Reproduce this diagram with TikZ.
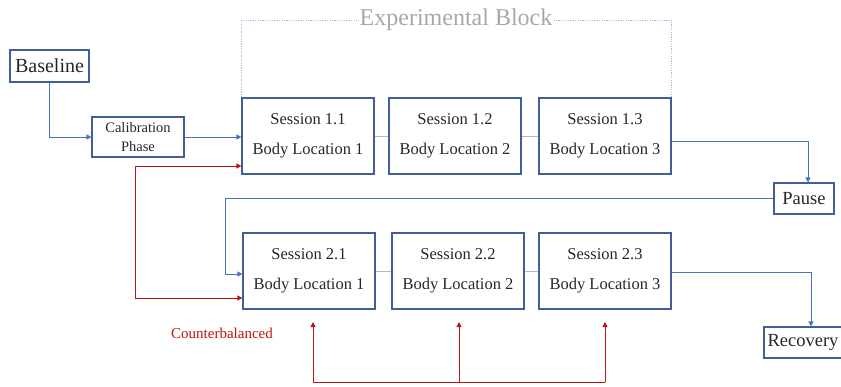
\documentclass[tikz,border=0pt]{standalone}
\usepackage{fontspec}
\setmainfont{Liberation Serif}
\usepackage{tikz}
\usetikzlibrary{arrows.meta}
\usetikzlibrary{calc}
\definecolor{boxline}{RGB}{65,95,150}
\definecolor{flowblue}{RGB}{75,115,195}
\definecolor{linkblue}{RGB}{165,185,225}
\definecolor{cbred}{RGB}{192,20,20}
\definecolor{titlegray}{RGB}{168,168,168}
\tikzset{
	sessnode/.style={rectangle, draw=boxline, line width=1.1pt, minimum width=132pt, minimum height=76pt, align=center, inner sep=0pt, font=\fontsize{16.5}{30}\selectfont, text=black!85},
	smallnode/.style={rectangle, draw=boxline, line width=1.1pt, inner sep=0pt, align=center, text=black!85},
	flow/.style={draw=flowblue, line width=0.9pt, -{Triangle[length=5pt,width=5pt]}},
	cbflow/.style={draw=cbred, line width=0.9pt, -{Triangle[length=5pt,width=5pt]}},
	link/.style={draw=linkblue, line width=0.9pt},
	frame/.style={draw=linkblue, line width=0.8pt, dash pattern=on 1.2pt off 1.2pt}
}

\begin{document}
\begin{tikzpicture}[x=1pt,y=-1pt]
		\useasboundingbox (0,0) rectangle (841,386);
		% left column
		\node[smallnode, minimum width=79pt, minimum height=32pt, font=\fontsize{20}{22}\selectfont] at (49.5,66) (BL) {Baseline};
		\node[smallnode, minimum width=92pt, minimum height=40pt, font=\fontsize{14.5}{19}\selectfont] at (138,137) (CP) {Calibration\\Phase};
		% sessions
		\node[sessnode] at (308,136) (S11) {Session 1.1\\Body Location 1};
		\node[sessnode] at (455,136) (S12) {Session 1.2\\Body Location 2};
		\node[sessnode] at (605,136) (S13) {Session 1.3\\Body Location 3};
		\node[sessnode] at (309,271) (S21) {Session 2.1\\Body Location 1};
		\node[sessnode] at (458,271) (S22) {Session 2.2\\Body Location 2};
		\node[sessnode] at (605,271) (S23) {Session 2.3\\Body Location 3};
		% right column
		\node[smallnode, minimum width=60pt, minimum height=31pt, font=\fontsize{18.5}{20}\selectfont] at (804,198.5) (PS) {Pause};
		\node[smallnode, minimum width=78pt, minimum height=31pt, font=\fontsize{18.5}{20}\selectfont] at (803,342.5) (RC) {Recovery};
		% block title
		\node[text=titlegray, font=\fontsize{24}{26}\selectfont, inner sep=1pt] at (456,20) (EB) {Experimental Block};
		\draw[frame] (S11.north west) |- (EB.west);
		\draw[frame] (EB.east) -| (S13.north east);
		% blue flow
		\draw[flow] (BL.south) |- (CP.west);
		\draw[flow] (CP.east) -- (S11.west |- CP.east);
		\draw[link] (S11.east) -- (S12.west);
		\draw[link] (S12.east) -- (S13.west);
		\draw[link] (S21.east) -- (S22.west);
		\draw[link] (S22.east) -- (S23.west);
		\draw[flow] ([yshift=-5pt]S13.east) -| ([xshift=4pt]PS.north);
		\coordinate (back) at (225,198.5);
		\draw[flow] (PS.west) -- (back) |- ([yshift=-3pt]S21.west);
		\draw[flow] ([yshift=-1pt]S23.east) -| ([xshift=8pt]RC.north);
		% counterbalancing
		\coordinate (cb) at (135,166);
		\draw[cbflow] (cb) -- (S11.west |- cb);
		\draw[cbflow] (cb) |- ([yshift=-27pt]S21.west);
		\coordinate (bus1) at (313,382);
		\coordinate (bus2) at (459,382);
		\coordinate (bus3) at (605,382);
		\draw[draw=cbred, line width=0.9pt] (bus1) -- (bus3);
		\draw[cbflow] (bus1) -- ++(0,-60);
		\draw[cbflow] (bus2) -- ++(0,-60);
		\draw[cbflow] (bus3) -- ++(0,-60);
		\node[text=cbred, font=\fontsize{15}{17}\selectfont] at (222,333) (CB) {Counterbalanced};
	\end{tikzpicture}
\end{document}
